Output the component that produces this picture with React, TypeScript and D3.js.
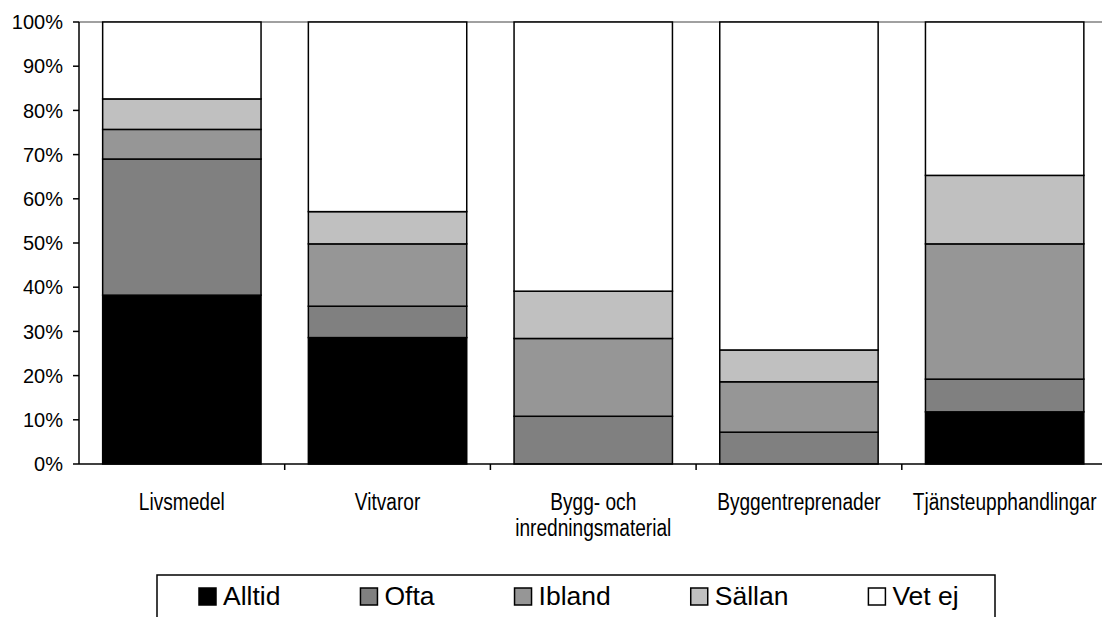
import React, { useEffect, useRef } from "react";
import * as d3 from "d3";

const categories = ["Livsmedel", "Vitvaror", "Bygg- och\ninredningsmaterial", "Byggentreprenader", "Tjänsteupphandlingar"];
const seriesNames = ["Alltid", "Ofta", "Ibland", "Sällan", "Vet ej"];
const seriesColors = ["#000000", "#808080", "#969696", "#c0c0c0", "#ffffff"];
const alltid = [38.2, 28.6, 0, 0, 11.8];
const ofta = [30.8, 7.1, 10.8, 7.2, 7.4];
const ibland = [6.7, 14.1, 17.6, 11.4, 30.6];
const sallan = [6.9, 7.3, 10.7, 7.2, 15.5];
const vetej = [17.4, 42.9, 60.9, 74.2, 34.7];
const yTicks = [0, 10, 20, 30, 40, 50, 60, 70, 80, 90, 100];

const W = 1102;
const H = 617;
const FONT = "'Liberation Sans', Arial, sans-serif";

export default function App() {
  const ref = useRef<SVGSVGElement>(null);

  useEffect(() => {
    const svg = d3.select(ref.current);
    svg.selectAll("*").remove();

    const left = 79, top = 22, bottom = 464, right = 1107.5;
    const x = d3.scaleBand<string>().domain(categories).range([left, right]).paddingInner(0.23).paddingOuter(0.115);
    const y = d3.scaleLinear().domain([0, 100]).range([bottom, top]);

    const allSeries = [alltid, ofta, ibland, sallan, vetej];
    const rows = categories.map((c, i) => {
      const r: any = { cat: c };
      seriesNames.forEach((s, k) => (r[s] = allSeries[k][i]));
      return r;
    });
    const stacked = d3.stack().keys(seriesNames)(rows);

    // top border line
    svg.append("line").attr("x1", left).attr("x2", W).attr("y1", y(100)).attr("y2", y(100))
      .attr("stroke", "#808080").attr("stroke-width", 1.5);

    // bars
    stacked.forEach((layer, k) => {
      svg.append("g").selectAll("rect")
        .data(layer.filter((d) => d[1] - d[0] > 0))
        .join("rect")
        .attr("x", (d: any) => x(d.data.cat)!)
        .attr("width", x.bandwidth())
        .attr("y", (d) => y(d[1]))
        .attr("height", (d) => y(d[0]) - y(d[1]))
        .attr("fill", seriesColors[k])
        .attr("stroke", "#000")
        .attr("stroke-width", 1.5);
    });

    // y axis
    svg.append("line").attr("x1", left).attr("x2", left).attr("y1", top).attr("y2", bottom)
      .attr("stroke", "#000").attr("stroke-width", 1.5);
    const yt = svg.append("g");
    yTicks.forEach((t) => {
      yt.append("line").attr("x1", left - 6).attr("x2", left).attr("y1", y(t)).attr("y2", y(t))
        .attr("stroke", "#000").attr("stroke-width", 1.5);
      yt.append("text").attr("x", 63).attr("y", y(t)).attr("dy", "0.36em").attr("text-anchor", "end")
        .attr("font-family", FONT).attr("font-size", 20).attr("fill", "#000").text(t + "%");
    });

    // x axis
    svg.append("line").attr("x1", left).attr("x2", W).attr("y1", bottom).attr("y2", bottom)
      .attr("stroke", "#000").attr("stroke-width", 1.5);
    const step = x.step();
    categories.forEach((c, i) => {
      const bx = left + step * (i + 1);
      svg.append("line").attr("x1", bx).attr("x2", bx).attr("y1", bottom).attr("y2", bottom + 6)
        .attr("stroke", "#000").attr("stroke-width", 1.5);
      const cx = x(c)! + x.bandwidth() / 2;
      const lines = c.split("\n");
      lines.forEach((ln, j) => {
        svg.append("text")
          .attr("transform", `translate(${cx},${510 + j * 26}) scale(0.82,1)`)
          .attr("text-anchor", "middle")
          .attr("font-family", FONT).attr("font-size", 23.3).attr("fill", "#000").text(ln);
      });
    });

    // legend
    svg.append("rect").attr("x", 157).attr("y", 575).attr("width", 838).attr("height", 80)
      .attr("fill", "#fff").attr("stroke", "#000").attr("stroke-width", 1.5);
    let lx = 199;
    seriesNames.forEach((s, k) => {
      svg.append("rect").attr("x", lx).attr("y", 588).attr("width", 17).attr("height", 17)
        .attr("fill", seriesColors[k]).attr("stroke", "#000").attr("stroke-width", 1.5);
      const t = svg.append("text").attr("x", lx + 24).attr("y", 605)
        .attr("font-family", FONT).attr("font-size", 26.5).attr("fill", "#000").text(s);
      const w = (t.node() as SVGTextElement).getComputedTextLength();
      lx = lx + 24 + w + 80;
    });
  }, []);

  return (
    <div style={{ position: "absolute", left: 0, top: 0 }}>
      <svg ref={ref} width={W} height={H} style={{ display: "block", background: "#fff" }} />
    </div>
  );
}
